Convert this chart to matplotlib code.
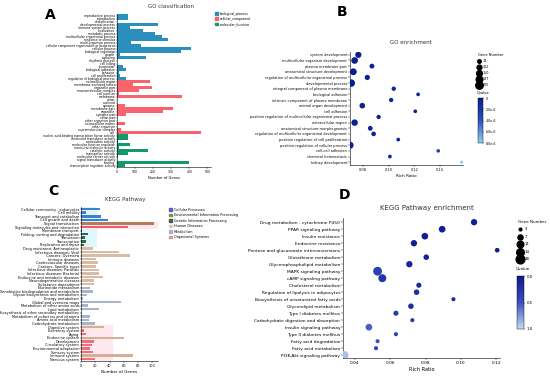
import matplotlib
matplotlib.use("Agg")
import matplotlib.pyplot as plt
import numpy as np
from matplotlib.colors import LinearSegmentedColormap
from matplotlib.patches import Patch
from matplotlib.lines import Line2D

plt.rcParams['font.family'] = ['DejaVu Sans']

# ---------------- Panel A data ----------------
go_bp_terms = ["reproductive process", "reproduction", "detoxification", "developmental process",
               "immune system process", "localization", "metabolic process",
               "multicellular organismal process", "response to stimulus", "multi-organism process",
               "cellular component organization or biogenesis", "cellular process",
               "biological regulation", "growth", "signaling", "rhythmic process", "cell killing",
               "locomotion", "biological adhesion", "behavior", "cell proliferation",
               "regulation of biological process"]
go_bp_counts = [59, 59, 2, 226, 74, 144, 209, 250, 283, 78, 130, 407, 356, 19, 161, 2, 2,
                31, 50, 13, 18, 50]
go_cc_terms = ["extracellular region", "membrane-enclosed lumen", "organelle part",
               "macromolecular complex", "cell junction", "membrane", "virion", "nucleoid",
               "synapse", "membrane part", "organelle", "synapse part", "virion part",
               "other organism part", "extracellular matrix", "other organism",
               "supramolecular complex", "cell"]
go_cc_counts = [182, 89, 194, 124, 9, 361, 0, 0, 46, 311, 257, 50, 0, 0, 43, 0, 22, 463]
go_mf_terms = ["nucleic acid binding transcription factor activity", "molecular transducer activity",
               "antioxidant activity", "molecular function regulator", "structural molecule activity",
               "catalytic activity", "transporter activity", "molecular carrier activity",
               "signal transducer activity", "binding", "transcription regulator activity"]
go_mf_counts = [63, 63, 4, 70, 9, 172, 59, 4, 0, 398, 43]
go_groups = ["biological_process", "cellular_component", "molecular_function"]
go_colors = ["#2a8fbd", "#f8646d", "#139a6b"]

# ---------------- Panel B data ----------------
gob_terms = ["system development", "multicellular organism development", "plasma membrane part",
             "anatomical structure development", "regulation of multicellular organismal process",
             "developmental process", "integral component of plasma membrane", "biological adhesion",
             "intrinsic component of plasma membrane", "animal organ development", "cell adhesion",
             "positive regulation of multicellular organismal process", "extracellular region",
             "anatomical structure morphogenesis", "regulation of multicellular organismal development",
             "positive regulation of cell proliferation", "positive regulation of cellular process",
             "cell-cell adhesion", "chemical homeostasis", "kidney development"]
gob_ratio = [0.0764, 0.0735, 0.0870, 0.0725, 0.0834, 0.0709, 0.1040, 0.1230, 0.1020, 0.0795,
             0.1208, 0.0922, 0.0735, 0.0857, 0.0883, 0.1075, 0.0699, 0.1387, 0.1010, 0.1570]
gob_genes = [165, 185, 112, 190, 125, 225, 95, 78, 95, 140, 78, 95, 175, 110, 105, 80, 210,
             74, 80, 60]
gob_q = [0.2e-6, 0.2e-6, 0.3e-6, 0.1e-6, 0.3e-6, 0.1e-6, 0.5e-6, 0.6e-6, 0.5e-6, 0.3e-6,
         0.6e-6, 0.5e-6, 0.3e-6, 0.5e-6, 0.5e-6, 0.8e-6, 0.3e-6, 2.5e-6, 1.0e-6, 7.5e-6]
gob_size_legend = [74, 112, 150, 187, 225]

# ---------------- Panel C data ----------------
kegg_terms = ["Cellular community - eukaryotes", "Cell motility", "Transport and catabolism",
              "Cell growth and death", "Signal transduction", "Signaling molecules and interaction",
              "Membrane transport", "Folding, sorting and degradation", "Translation",
              "Transcription", "Replication and repair", "Drug resistance: Antineoplastic",
              "Infectious diseases: Viral", "Cancers: Overview", "Immune diseases",
              "Cardiovascular diseases", "Cancers: Specific types", "Infectious diseases: Parasitic",
              "Infectious diseases: Bacterial", "Endocrine and metabolic diseases",
              "Neurodegenerative diseases", "Substance dependence", "Nucleotide metabolism",
              "Xenobiotics biodegradation and metabolism", "Glycan biosynthesis and metabolism",
              "Energy metabolism", "Global and overview maps", "Metabolism of other amino acids",
              "Lipid metabolism", "Biosynthesis of other secondary metabolites",
              "Metabolism of cofactors and vitamins", "Amino acid metabolism",
              "Carbohydrate metabolism", "Digestive system", "Excretory system", "Aging",
              "Endocrine system", "Development", "Circulatory system", "Environmental adaptation",
              "Sensory system", "Immune system", "Nervous system"]
kegg_counts = [26, 6.6, 28.6, 38.5, 102, 66, 1, 10, 6, 7.5, 4.7, 17, 53.5, 68.5, 21.6, 23.5,
               21.6, 25, 25, 31, 18, 18.8, 12, 17, 8.5, 2.8, 56, 10, 25, 1, 12, 11, 19, 32, 4,
               6.6, 60.5, 18, 15, 13, 17, 73, 19.7]
kegg_bar_colors = (["#3f7fd0"] * 4 + ["#b97a5c", "#ef5f6b"] + ["#2c6a50"] * 5 +
                   ["#d8bca6"] * 11 + ["#a9b5cc"] * 11 +
                   ["#d6ae92", "#f0707a", "#f0707a", "#d6ae92", "#f0707a", "#f0707a",
                    "#f0707a", "#f0707a", "#d6ae92", "#f0707a"])
kegg_classes = ["Cellular Processes", "Environmental Information Processing",
                "Genetic Information Processing", "Human Diseases", "Metabolism",
                "Organismal Systems"]
kegg_class_colors = ["#5a5fc8", "#7d8b4f", "#3d5c55", "#d9cdb2", "#aab0cc", "#c9a48a"]

# ---------------- Panel D data ----------------
kd_terms = ["Drug metabolism - cytochrome P450", "PPAR signaling pathway", "Insulin resistance",
            "Endocrine resistance", "Pentose and glucuronate interconversions",
            "Glutathione metabolism", "Glycerophospholipid metabolism", "MAPK signaling pathway",
            "cAMP signaling pathway", "Cholesterol metabolism",
            "Regulation of lipolysis in adipocytes", "Biosynthesis of unsaturated fatty acids",
            "Glycerolipid metabolism", "Type I diabetes mellitus",
            "Carbohydrate digestion and absorption", "Insulin signaling pathway",
            "Type II diabetes mellitus", "Fatty acid degradation", "Fatty acid metabolism",
            "PI3K-Akt signaling pathway"]
kd_ratio = [0.1075, 0.0894, 0.0796, 0.0734, 0.1206, 0.0804, 0.0708, 0.0528, 0.0555, 0.0762,
            0.0749, 0.0958, 0.0717, 0.0632, 0.0725, 0.0479, 0.0632, 0.0528, 0.0519, 0.0340]
kd_genes = [10, 11, 11, 10, 6, 8, 10, 18, 15, 7, 8, 5, 8, 7, 5, 11, 5, 5, 5, 16]
kd_q = [0.05, 0.05, 0.05, 0.05, 0.05, 0.1, 0.1, 0.35, 0.25, 0.15, 0.2, 0.2, 0.2, 0.3, 0.3,
        0.55, 0.35, 0.5, 0.4, 0.9]
kd_size_legend = [3, 7, 11, 14, 18]

W, H = 550, 378
fig = plt.figure(figsize=(5.5, 3.78), dpi=100)


def ax_px(l, t, r, b):
    return fig.add_axes([l / W, 1 - b / H, (r - l) / W, (b - t) / H])


def fx(x):
    return x / W


def fy(y):
    return 1 - y / H


def style_axes(ax, fs):
    for s in ["top", "right"]:
        ax.spines[s].set_visible(False)
    for s in ["left", "bottom"]:
        ax.spines[s].set_linewidth(0.4)
    ax.tick_params(axis="both", labelsize=fs, width=0.3, length=1.2, pad=0.8)


# ---------------- Panel A ----------------
axA = ax_px(117, 14, 211, 167)
terms = go_bp_terms + go_cc_terms + go_mf_terms
counts = go_bp_counts + go_cc_counts + go_mf_counts
cols = ([go_colors[0]] * len(go_bp_terms) + [go_colors[1]] * len(go_cc_terms) +
        [go_colors[2]] * len(go_mf_terms))
yA = np.arange(len(terms))
axA.barh(yA, counts, color=cols, height=0.75)
axA.set_yticks(yA)
axA.set_yticklabels(terms, fontsize=1.9)
axA.set_ylim(len(terms) - 0.5, -0.5)
axA.set_xlim(0, 520)
axA.set_xticks([0, 100, 200, 300, 400, 500])
style_axes(axA, 2.2)
axA.tick_params(axis="y", length=0.8, pad=0.5)
axA.set_xlabel("Number of Genes", fontsize=2.6, labelpad=1.5)
fig.text(fx(171), fy(6), "GO classification", fontsize=4, ha="center", va="center", color="#333333")
axA.legend(handles=[Patch(color=c, label=g) for g, c in zip(go_groups, go_colors)],
           loc="upper left", bbox_to_anchor=(fx(213), fy(10)), bbox_transform=fig.transFigure,
           fontsize=2.3, frameon=False, handlelength=1.0, handleheight=0.9,
           labelspacing=0.4, handletextpad=0.5, borderpad=0)
fig.text(fx(50), fy(15), "A", fontsize=10, fontweight="bold", ha="center", va="center")

# ---------------- Panel B ----------------
cmapB = LinearSegmentedColormap.from_list("qb", ["#0a1c8c", "#2e52c0", "#8fd3f6"])
axB = ax_px(350, 52, 463, 165)
yB = np.arange(len(gob_terms))


def sizeB(g):
    return 3 + (np.asarray(g, float) - 50) / (225 - 50) * 26


scB = axB.scatter(gob_ratio, yB, s=sizeB(gob_genes), c=gob_q, cmap=cmapB, vmin=0, vmax=8e-6,
                  edgecolors="none", zorder=3)
axB.set_yticks(yB)
axB.set_yticklabels(gob_terms, fontsize=2.35)
axB.set_ylim(len(gob_terms) - 0.5, -0.5)
axB.set_xlim(0.0699, 0.158)
axB.set_xticks([0.08, 0.10, 0.12, 0.14])
axB.set_xticklabels(["0.08", "0.10", "0.12", "0.14"])
style_axes(axB, 2.5)
axB.set_xlabel("Rich Ratio", fontsize=3.0, labelpad=1.5)
fig.text(fx(411), fy(42), "GO enrichment", fontsize=4, ha="center", va="center", color="#333333")
fig.text(fx(342), fy(12), "B", fontsize=10, fontweight="bold", ha="center", va="center")
hB = [Line2D([], [], ls="", marker="o", color="black", markersize=np.sqrt(sizeB(g)), label=str(g))
      for g in gob_size_legend]
legB = fig.legend(handles=hB, loc="upper left", bbox_to_anchor=(fx(476), fy(51)), fontsize=2.4,
                  frameon=False, title="Gene Number", title_fontsize=2.6, labelspacing=0.6,
                  handletextpad=0.6, borderpad=0, handlelength=1.0)
legB._legend_box.align = "left"
caxB = ax_px(478, 98, 483, 143)
cbB = fig.colorbar(scB, cax=caxB)
cbB.set_ticks([0, 2e-6, 4e-6, 6e-6, 8e-6])
cbB.set_ticklabels(["0", "2.0e-6", "4.0e-6", "6.0e-6", "8.0e-6"])
caxB.invert_yaxis()
caxB.tick_params(labelsize=2.3, width=0.3, length=1, pad=0.8)
cbB.outline.set_linewidth(0.3)
fig.text(fx(477), fy(92), "Qvalue", fontsize=2.6, ha="left", va="center")

# ---------------- Panel C ----------------
axC = ax_px(81, 207, 158, 361)
yC = np.arange(len(kegg_terms))
# faint category background bands
axC.axhspan(-0.5, 3.5, xmin=0, xmax=0.21, color="#dff6fb", zorder=0, lw=0)
axC.axhspan(3.5, 5.5, xmin=0, xmax=1.0, color="#fde8f0", zorder=0, lw=0)
axC.axhspan(5.5, 10.5, xmin=0, xmax=0.21, color="#dff6fb", zorder=0, lw=0)
axC.axhspan(32.5, 42.5, xmin=0, xmax=0.42, color="#fde8f0", zorder=0, lw=0)
axC.barh(yC, kegg_counts, color=kegg_bar_colors, height=0.7, zorder=2)
axC.set_yticks(yC)
axC.set_yticklabels(kegg_terms, fontsize=2.5)
axC.set_ylim(len(kegg_terms) - 0.5, -0.6)
axC.set_xlim(0, 108)
axC.set_xticks([0, 20, 40, 60, 80, 100])
style_axes(axC, 2.5)
axC.tick_params(axis="y", length=0.8, pad=0.5)
axC.set_xlabel("Number of Genes", fontsize=3, labelpad=1.5)
fig.text(fx(125), fy(200), "KEGG Pathway", fontsize=4, ha="center", va="center", color="#333333")
fig.text(fx(53), fy(191), "C", fontsize=10, fontweight="bold", ha="center", va="center")
axC.legend(handles=[Patch(color=c, label=k) for k, c in zip(kegg_classes, kegg_class_colors)],
           loc="upper left", bbox_to_anchor=(fx(167), fy(206)), bbox_transform=fig.transFigure,
           fontsize=2.4, frameon=False, handlelength=1.0, handleheight=0.9, labelspacing=0.45,
           handletextpad=0.6, borderpad=0)

# ---------------- Panel D ----------------
cmapD = LinearSegmentedColormap.from_list("qd", ["#0c1a8e", "#3a4fc0", "#c4ddf7"])
axD = ax_px(343, 218, 500, 358)
yD = np.arange(len(kd_terms))


def sizeD(g):
    return 4 + (np.asarray(g, float) - 3) / (18 - 3) * 36


scD = axD.scatter(kd_ratio, yD, s=sizeD(kd_genes), c=kd_q, cmap=cmapD, vmin=0, vmax=1,
                  edgecolors="none", zorder=3)
axD.set_yticks(yD)
axD.set_yticklabels(kd_terms, fontsize=3.3)
axD.set_ylim(len(kd_terms) - 0.6, -0.6)
axD.set_xlim(0.0332, 0.1222)
axD.set_xticks([0.04, 0.06, 0.08, 0.10, 0.12])
axD.set_xticklabels(["0.04", "0.06", "0.08", "0.10", "0.12"])
style_axes(axD, 3.2)
axD.set_xlabel("Rich Ratio", fontsize=3.6, labelpad=1.5)
fig.text(fx(427), fy(208), "KEGG Pathway enrichment", fontsize=5, ha="center", va="center",
         color="#333333")
fig.text(fx(345), fy(195), "D", fontsize=10, fontweight="bold", ha="center", va="center")
hD = [Line2D([], [], ls="", marker="o", color="black", markersize=np.sqrt(sizeD(g)), label=str(g))
      for g in kd_size_legend]
legD = fig.legend(handles=hD, loc="upper left", bbox_to_anchor=(fx(516), fy(218)), fontsize=2.8,
                  frameon=False, title="Gene Number", title_fontsize=2.9, labelspacing=0.9,
                  handletextpad=0.8, borderpad=0, handlelength=1.0)
legD._legend_box.align = "left"
caxD = ax_px(517, 276, 524, 329)
cbD = fig.colorbar(scD, cax=caxD)
cbD.set_ticks([0, 0.5, 1.0])
cbD.set_ticklabels(["0.0", "0.5", "1.0"])
caxD.invert_yaxis()
caxD.tick_params(labelsize=2.8, width=0.3, length=1, pad=0.8)
cbD.outline.set_linewidth(0.3)
fig.text(fx(516), fy(268), "Qvalue", fontsize=2.9, ha="left", va="center")

fig.savefig("out.png", dpi=100)
